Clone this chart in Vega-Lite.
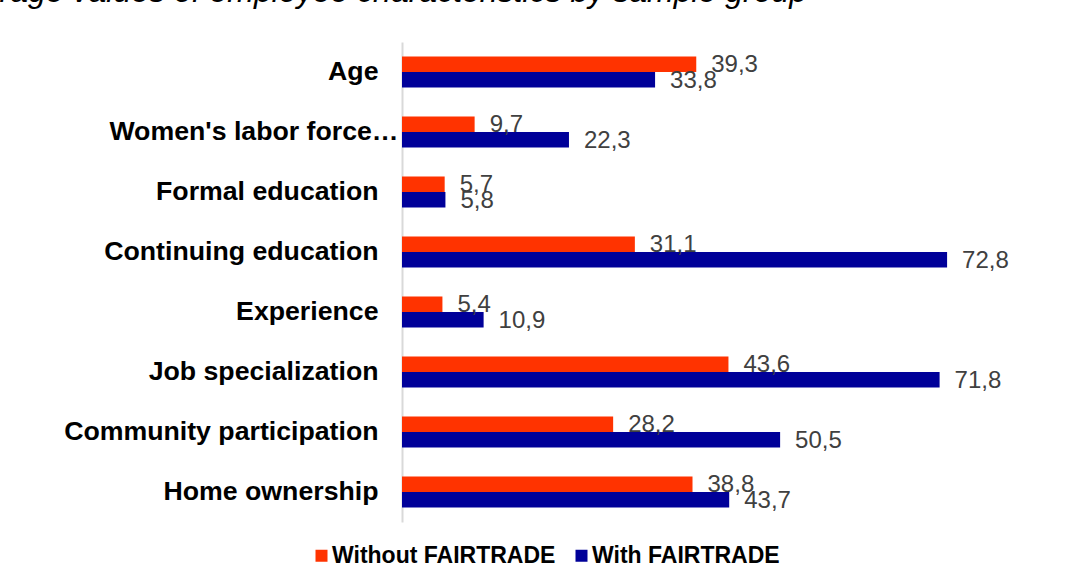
{
  "$schema": "https://vega.github.io/schema/vega-lite/v6.json",
  "autosize": {"type": "none"},
  "padding": {"left": 402, "top": 42, "right": 86, "bottom": 58},
  "width": 599,
  "height": 480,
  "background": "white",
  "title": {
    "text": "Average values of employee characteristics by sample group",
    "orient": "top",
    "anchor": "start",
    "frame": "group",
    "baseline": "alphabetic",
    "offset": 8,
    "dx": -457,
    "font": "Liberation Sans",
    "fontSize": 32,
    "fontStyle": "italic",
    "fontWeight": "normal",
    "color": "#000000"
  },
  "config": {
    "locale": {"number": {"decimal": ",", "thousands": ".", "grouping": [3], "currency": ["", " €"]}},
    "view": {"stroke": null},
    "font": "Liberation Sans"
  },
  "data": {
    "values": [
      {"characteristic": "Age", "group": "Without FAIRTRADE", "value": 39.3},
      {"characteristic": "Age", "group": "With FAIRTRADE", "value": 33.8},
      {"characteristic": "Women's labor force participation", "group": "Without FAIRTRADE", "value": 9.7},
      {"characteristic": "Women's labor force participation", "group": "With FAIRTRADE", "value": 22.3},
      {"characteristic": "Formal education", "group": "Without FAIRTRADE", "value": 5.7},
      {"characteristic": "Formal education", "group": "With FAIRTRADE", "value": 5.8},
      {"characteristic": "Continuing education", "group": "Without FAIRTRADE", "value": 31.1},
      {"characteristic": "Continuing education", "group": "With FAIRTRADE", "value": 72.8},
      {"characteristic": "Experience", "group": "Without FAIRTRADE", "value": 5.4},
      {"characteristic": "Experience", "group": "With FAIRTRADE", "value": 10.9},
      {"characteristic": "Job specialization", "group": "Without FAIRTRADE", "value": 43.6},
      {"characteristic": "Job specialization", "group": "With FAIRTRADE", "value": 71.8},
      {"characteristic": "Community participation", "group": "Without FAIRTRADE", "value": 28.2},
      {"characteristic": "Community participation", "group": "With FAIRTRADE", "value": 50.5},
      {"characteristic": "Home ownership", "group": "Without FAIRTRADE", "value": 38.8},
      {"characteristic": "Home ownership", "group": "With FAIRTRADE", "value": 43.7}
    ]
  },
  "encoding": {
    "y": {
      "field": "characteristic",
      "type": "nominal",
      "sort": null,
      "scale": {"paddingInner": 0.48, "paddingOuter": 0.24},
      "axis": {
        "title": null,
        "ticks": false,
        "domainColor": "#d9d9d9",
        "domainWidth": 2,
        "labelPadding": {"condition": {"test": "length(datum.value) > 30", "value": 4}, "value": 24},
        "labelFont": "Liberation Sans",
        "labelFontSize": 26.7,
        "labelFontWeight": "bold",
        "labelColor": "#000000",
        "labelLimit": 400,
        "labelExpr": "length(datum.label) > 30 ? truncate(datum.label, 20) : datum.label"
      }
    },
    "yOffset": {
      "field": "group",
      "type": "nominal",
      "sort": ["Without FAIRTRADE", "With FAIRTRADE"],
      "scale": {"paddingInner": 0, "paddingOuter": 0}
    },
    "x": {
      "field": "value",
      "type": "quantitative",
      "scale": {"domain": [0, 80], "nice": false},
      "axis": null
    }
  },
  "layer": [
    {
      "mark": {"type": "bar"},
      "encoding": {
        "color": {
          "field": "group",
          "type": "nominal",
          "sort": ["Without FAIRTRADE", "With FAIRTRADE"],
          "scale": {"domain": ["Without FAIRTRADE", "With FAIRTRADE"], "range": ["#FF3300", "#000099"]},
          "legend": {
            "title": null,
            "orient": "none",
            "direction": "horizontal",
            "legendX": -92,
            "legendY": 502,
            "symbolType": "square",
            "symbolSize": 144,
            "symbolStrokeWidth": 0,
            "labelFont": "Liberation Sans",
            "labelFontSize": 23,
            "labelFontWeight": "bold",
            "labelColor": "#000000",
            "labelOffset": -1,
            "columnPadding": 14,
            "labelLimit": 400
          }
        }
      }
    },
    {
      "mark": {"type": "text", "align": "left", "baseline": "middle", "dx": 15, "dy": 1, "font": "Liberation Sans", "fontSize": 24, "color": "#404040"},
      "encoding": {
        "text": {"field": "value", "type": "quantitative", "format": ".1f"}
      }
    }
  ]
}
